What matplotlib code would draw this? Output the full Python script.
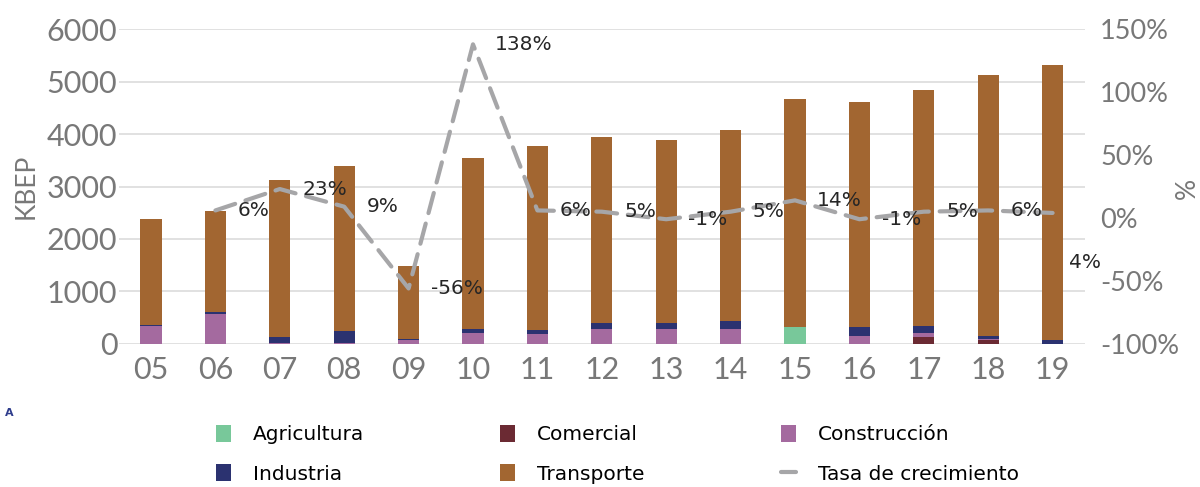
import matplotlib.pyplot as plt
import numpy as np

# años y consumo por sector (KBEP)
years = ['05', '06', '07', '08', '09', '10', '11', '12', '13', '14', '15', '16', '17', '18', '19']
totals = [2380, 2540, 3125, 3390, 1485, 3545, 3770, 3945, 3885, 4075, 4665, 4610, 4840, 5125, 5315]
agricultura = [0, 0, 0, 0, 0, 0, 0, 0, 0, 0, 325, 0, 0, 0, 0]
comercial = [0, 0, 0, 0, 0, 0, 0, 0, 0, 0, 0, 0, 135, 75, 0]
construccion = [340, 575, 15, 15, 75, 215, 190, 285, 285, 285, 0, 150, 75, 25, 0]
industria = [15, 38, 110, 225, 20, 70, 75, 115, 115, 150, 0, 170, 135, 50, 75]
transporte = [t - a - c - k - i for t, a, c, k, i in zip(totals, agricultura, comercial, construccion, industria)]

# tasa de crecimiento (%) desde 06
growth = [6, 23, 9, -56, 138, 6, 5, -1, 5, 14, -1, 5, 6, 4]
growth_labels = ['6%', '23%', '9%', '-56%', '138%', '6%', '5%', '-1%', '5%', '14%', '-1%', '5%', '6%', '4%']

colors = {'Agricultura': '#78C89A', 'Comercial': '#6B2A33', 'Construcción': '#A46A9F',
          'Industria': '#2B3270', 'Transporte': '#A26631'}
tick_color = '#787878'

fig = plt.figure(figsize=(12, 4.87), dpi=100)
ax = fig.add_axes([0.099, 0.294, 0.805, 0.646])

x = np.arange(len(years))
width = 0.33
bottom = np.zeros(len(years))
bars = {}
for name, vals in [('Agricultura', agricultura), ('Comercial', comercial), ('Construcción', construccion),
                   ('Industria', industria), ('Transporte', transporte)]:
    bars[name] = ax.bar(x, vals, width, bottom=bottom, color=colors[name], label=name, zorder=3)
    bottom += np.array(vals)

ax.set_xlim(-0.5, len(years) - 0.5)
ax.set_ylim(0, 6000)
ax.set_yticks(range(0, 6001, 1000))
ax.set_xticks(x)
ax.set_xticklabels(years)
ax.grid(axis='y', color='#D9D9D9', linewidth=1.1, zorder=0)
ax.set_axisbelow(True)
for s in ax.spines.values():
    s.set_visible(False)
ax.tick_params(length=0, labelsize=22, labelcolor=tick_color)
ax.tick_params(axis='y', pad=1)
ax.tick_params(axis='x', pad=9)
for lab in ax.get_xticklabels() + ax.get_yticklabels():
    lab.set_fontfamily('Lato')
ax.set_ylabel('KBEP', fontsize=19, color=tick_color, family='Lato', labelpad=6)

ax2 = ax.twinx()
ax2.set_ylim(-100, 150)
ax2.set_yticks(range(-100, 151, 50))
ax2.set_yticklabels([f'{v}%' for v in range(-100, 151, 50)])
for s in ax2.spines.values():
    s.set_visible(False)
ax2.tick_params(length=0, labelsize=19.5, labelcolor=tick_color, pad=11)
for lab in ax2.get_yticklabels():
    lab.set_fontfamily('Lato')
fig.text(1187 / 1200, 1 - 188 / 487, '%', rotation=90, fontsize=19, color=tick_color,
         family='Lato', ha='center', va='center')

gx = x[1:]
line, = ax2.plot(gx, growth, color='#A6A6A8', linewidth=3, dashes=(5, 2.6),
                 dash_capstyle='round', label='Tasa de crecimiento', zorder=4)
for i, (xi, yi, lab) in enumerate(zip(gx, growth, growth_labels)):
    off = (11.5, -36) if i == len(growth) - 1 else (16, 0)
    ax2.annotate(lab, (xi, yi), xytext=off, textcoords='offset points', ha='left', va='center',
                 fontsize=14.5, color='#262626', zorder=5)

fig.text(0.004, 0.145, 'A', fontsize=8, color='#2E3C8C', fontweight='bold')

# leyenda en tres columnas
cols = [(['Agricultura', 'Industria'], [bars['Agricultura'], bars['Industria']], 216),
        (['Comercial', 'Transporte'], [bars['Comercial'], bars['Transporte']], 500),
        (['Construcción', 'Tasa de crecimiento'], [bars['Construcción'], line], 781)]
for labels, handles, xpos in cols:
    fig.legend(handles, labels, loc='upper left', bbox_to_anchor=(xpos / 1200, 1 - 425 / 487),
               bbox_transform=fig.transFigure, frameon=False, fontsize=14.5,
               handlelength=0.75, handleheight=0.9, handletextpad=1.1, labelspacing=1.0,
               borderaxespad=0, borderpad=0)

fig.savefig('out.png', dpi=100)
